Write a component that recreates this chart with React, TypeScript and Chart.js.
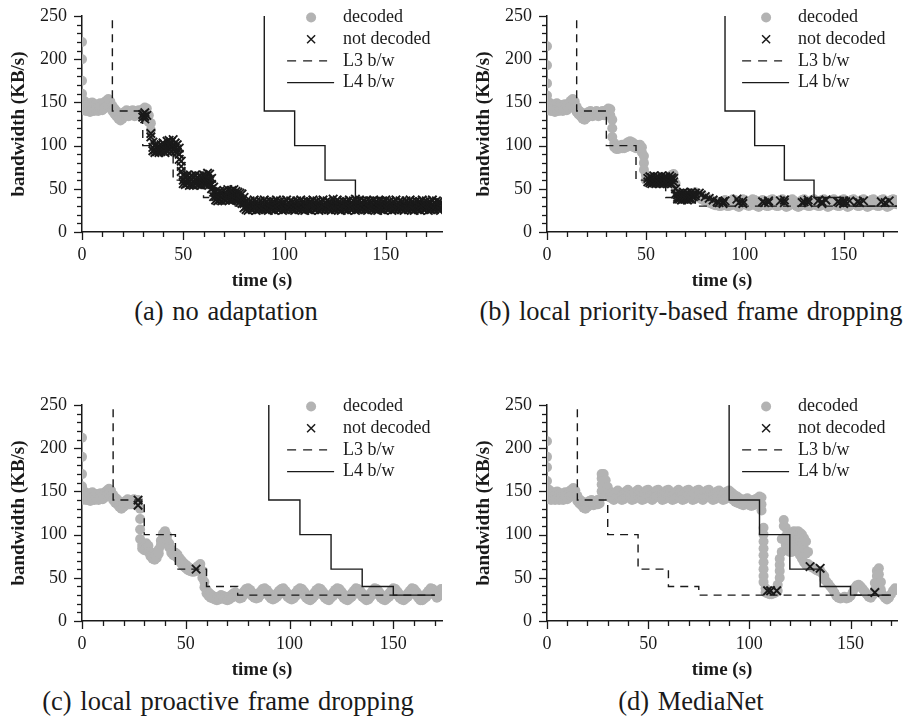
import React, { useEffect, useRef } from "react";
import { Chart, registerables } from "chart.js";
Chart.register(...registerables);

const FONT = "'Liberation Serif', 'Times New Roman', serif";
const GRAY = "#b3b3b3";
const INK = "#1a1a1a";

// ---------- axis / legend text ----------
const Y_TITLE = "bandwidth (KB/s)";
const X_TITLE = "time (s)";
const Y_MAJOR = [0, 50, 100, 150, 200, 250];
const X_MAJOR = [0, 50, 100, 150];
const MINOR_STEP = 10;
const LEGEND_LABELS = ["decoded", "not decoded", "L3 b/w", "L4 b/w"];
const CAPTIONS = [
  "(a) no adaptation",
  "(b) local priority-based frame dropping",
  "(c) local proactive frame dropping",
  "(d) MediaNet",
];

// ---------- link bandwidth steps [time, KB/s] ----------
const L3_STEPS = [[15, 245], [15, 140], [30, 140], [30, 100], [45, 100], [45, 60], [60, 60], [60, 40], [75, 40], [75, 30]];
const L4_STEPS = [[90, 250], [90, 140], [105, 140], [105, 100], [120, 100], [120, 60], [135, 60], [135, 40], [150, 40], [150, 30]];
const LINE_END = [177, 177, 170, 170];
const X_MAX = [177.8, 177, 173.5, 173];

// ---------- frame samples: [time, value, value, ...] ----------
const A_DECODED = [
  [0, 220, 200, 175, 160, 150, 142], [1, 152, 141], [2, 146, 140], [3, 149, 141], [4, 147, 139], [5, 150, 142],
  [6, 146, 140], [7, 148, 141], [8, 145, 140], [9, 149, 142], [10, 147, 141], [11, 150, 143], [12, 152, 145],
  [13, 154, 146], [14, 151, 144], [15, 146, 140], [16, 143, 137], [17, 140, 134], [18, 136, 131], [19, 133, 129],
  [20, 135, 131], [21, 139, 134], [22, 141, 135], [23, 138, 134], [24, 140, 135], [25, 141, 136], [26, 139, 134],
  [27, 140, 135], [28, 141, 136], [29, 139, 135], [30, 142, 137], [31, 144, 139], [32, 143, 136], [33, 135, 127],
  [34, 126, 118],
];
const A_DROPPED = [
  [30, 136, 133], [31, 138, 134, 131], [32, 135], [34, 114, 110], [35, 104, 98, 94], [36, 100, 95, 92],
  [37, 102, 97, 93], [38, 99, 95, 92], [39, 101, 96, 93], [40, 103, 98, 94], [41, 100, 96, 92], [42, 105, 99, 94],
  [43, 106, 100, 95], [44, 104, 98, 93], [45, 107, 99, 95], [46, 103, 97, 93], [47, 101, 96, 92], [48, 97, 90, 84],
  [49, 82, 76, 70], [50, 66, 60, 56], [51, 64, 59, 55], [52, 66, 61, 56], [53, 63, 58, 54], [54, 65, 60, 55],
  [55, 64, 58, 54], [56, 66, 61, 56], [57, 63, 59, 55], [58, 65, 60, 55], [59, 64, 58, 54], [60, 66, 61, 57],
  [61, 65, 59, 55], [62, 68, 62, 56], [63, 67, 61, 55], [64, 62, 55, 50], [65, 52, 46, 41], [66, 47, 41, 37],
  [67, 45, 40, 36], [68, 47, 42, 37], [69, 46, 40, 36], [70, 48, 43, 38], [71, 46, 41, 37], [72, 49, 43, 38],
  [73, 47, 42, 37], [74, 48, 43, 37], [75, 49, 44, 38], [76, 47, 42, 37], [77, 46, 40, 36], [78, 45, 39, 35],
  [79, 44, 37, 33], [80, 40, 33, 28], [81, 35, 30, 26], [82, 33, 29, 25], [83, 36, 31, 27], [84, 34, 30, 26],
  [85, 37, 31, 27], [86, 35, 29, 25], [87, 33, 30, 26], [88, 36, 31, 27], [89, 34, 29, 26], [90, 37, 32, 27],
  [91, 35, 30, 26], [92, 33, 29, 25], [93, 36, 31, 27], [94, 34, 30, 26], [95, 35, 29, 25], [96, 37, 32, 28],
  [97, 34, 30, 26], [98, 36, 31, 27], [99, 33, 29, 25], [100, 35, 30, 26], [101, 37, 31, 27], [102, 34, 29, 26],
  [103, 36, 32, 28], [104, 35, 30, 26], [105, 33, 29, 25], [106, 36, 31, 27], [107, 34, 30, 26], [108, 37, 31, 27],
  [109, 35, 30, 26], [110, 33, 29, 25], [111, 36, 31, 27], [112, 34, 30, 26], [113, 35, 29, 25], [114, 37, 32, 28],
  [115, 34, 30, 26], [116, 36, 31, 27], [117, 33, 29, 25], [118, 35, 30, 26], [119, 37, 31, 27], [120, 34, 29, 26],
  [121, 36, 32, 28], [122, 35, 30, 26], [123, 33, 29, 25], [124, 38, 31, 27], [125, 34, 30, 26], [126, 37, 31, 27],
  [127, 35, 30, 26], [128, 33, 29, 25], [129, 36, 31, 27], [130, 34, 30, 26], [131, 35, 29, 25], [132, 37, 32, 28],
  [133, 34, 30, 26], [134, 36, 31, 27], [135, 38, 29, 25], [136, 35, 30, 26], [137, 37, 31, 27], [138, 34, 29, 26],
  [139, 36, 32, 28], [140, 35, 30, 26], [141, 33, 29, 25], [142, 36, 31, 27], [143, 34, 30, 26], [144, 37, 31, 27],
  [145, 35, 30, 26], [146, 33, 29, 25], [147, 36, 31, 27], [148, 34, 30, 26], [149, 35, 29, 25], [150, 37, 32, 28],
  [151, 34, 30, 26], [152, 36, 31, 27], [153, 33, 29, 25], [154, 35, 30, 26], [155, 37, 31, 27], [156, 34, 29, 26],
  [157, 36, 32, 28], [158, 35, 30, 26], [159, 33, 29, 25], [160, 36, 31, 27], [161, 34, 30, 26], [162, 37, 31, 27],
  [163, 35, 30, 26], [164, 33, 29, 25], [165, 36, 31, 27], [166, 34, 30, 26], [167, 35, 29, 25], [168, 37, 32, 28],
  [169, 34, 30, 26], [170, 36, 31, 27], [171, 33, 29, 25], [172, 35, 30, 26], [173, 37, 31, 27], [174, 34, 29, 26],
  [175, 36, 32, 28], [176, 35, 30, 26], [177, 34, 29, 25],
];

const B_DECODED = [
  [0, 215, 193, 172, 158, 148, 141], [1, 150, 141], [2, 146, 140], [3, 148, 141], [4, 146, 139], [5, 149, 142],
  [6, 145, 140], [7, 147, 141], [8, 145, 140], [9, 148, 142], [10, 146, 141], [11, 149, 143], [12, 152, 145],
  [13, 154, 146], [14, 151, 144], [15, 145, 139], [16, 141, 136], [17, 139, 134], [18, 136, 131], [19, 134, 130],
  [20, 136, 132], [21, 139, 134], [22, 140, 135], [23, 138, 134], [24, 139, 135], [25, 140, 135], [26, 138, 134],
  [27, 139, 135], [28, 140, 136], [29, 139, 135], [30, 141, 136], [31, 143, 138], [32, 142, 135], [33, 130, 120, 110],
  [34, 103, 98], [35, 100, 96], [36, 99, 96], [37, 100, 97], [38, 101, 97], [39, 100, 97], [40, 102, 98],
  [41, 104, 99], [42, 105, 100], [43, 104, 99], [44, 102, 98], [45, 101, 97], [46, 100, 97], [47, 101, 96],
  [48, 98, 92], [49, 88, 80, 72], [50, 66, 60], [51, 63, 59], [52, 62, 58], [53, 63, 59], [54, 62, 58],
  [55, 63, 59], [56, 62, 58], [57, 63, 59], [58, 62, 58], [59, 63, 59], [60, 62, 58], [61, 63, 59], [62, 64, 60],
  [63, 66, 61], [64, 67, 60], [65, 56, 48], [66, 45, 41], [67, 44, 40], [68, 43, 40], [69, 44, 40], [70, 43, 39],
  [71, 44, 40], [72, 45, 41], [73, 44, 40], [74, 45, 41], [75, 46, 42], [76, 45, 41], [77, 44, 40], [78, 42, 38],
  [79, 41, 37], [80, 40, 36], [81, 39, 35], [82, 38, 34], [83, 37, 33], [84, 36, 32], [85, 35, 31], [86, 35, 31],
  [87, 34, 30], [88, 34, 30], [89, 36, 31], [90, 37, 32], [91, 35, 30], [92, 34, 30], [93, 36, 31], [94, 38, 33],
  [95, 37, 32], [96, 35, 30], [97, 34, 29], [98, 36, 31], [99, 38, 33], [100, 37, 32], [101, 35, 31], [102, 34, 30],
  [103, 36, 31], [104, 38, 33], [105, 37, 32], [106, 35, 30], [107, 34, 29], [108, 36, 31], [109, 37, 32],
  [110, 36, 31], [111, 34, 30], [112, 35, 30], [113, 37, 32], [114, 38, 33], [115, 36, 31], [116, 34, 30],
  [117, 35, 30], [118, 37, 32], [119, 38, 33], [120, 36, 31], [121, 34, 29], [122, 35, 30], [123, 37, 32],
  [124, 38, 33], [125, 36, 32], [126, 34, 30], [127, 33, 29], [128, 35, 30], [129, 37, 32], [130, 38, 33],
  [131, 36, 31], [132, 34, 30], [133, 35, 30], [134, 37, 32], [135, 38, 33], [136, 36, 31], [137, 34, 30],
  [138, 35, 30], [139, 37, 32], [140, 38, 33], [141, 36, 31], [142, 34, 29], [143, 35, 30], [144, 37, 32],
  [145, 38, 33], [146, 36, 31], [147, 34, 30], [148, 35, 30], [149, 37, 32], [150, 38, 33], [151, 36, 31],
  [152, 34, 29], [153, 35, 30], [154, 37, 32], [155, 38, 33], [156, 36, 32], [157, 34, 30], [158, 35, 30],
  [159, 37, 32], [160, 38, 33], [161, 36, 31], [162, 34, 29], [163, 35, 30], [164, 37, 32], [165, 38, 33],
  [166, 36, 31], [167, 34, 30], [168, 35, 30], [169, 37, 32], [170, 38, 33], [171, 36, 31], [172, 34, 29],
  [173, 35, 30], [174, 37, 32], [175, 38, 34], [176, 37, 33], [177, 36, 32],
];
const B_DROPPED = [
  [51, 62, 58], [52, 64, 60, 57], [53, 63, 59, 56], [54, 65, 61, 57], [55, 63, 58, 56], [56, 64, 60, 57],
  [57, 62, 59, 56], [58, 65, 61, 57], [59, 63, 59, 56], [60, 64, 60, 57], [61, 62, 58, 56], [62, 65, 61, 57],
  [63, 63, 60, 56], [64, 62, 58], [65, 50, 44], [66, 43, 40, 38], [67, 45, 41, 38], [68, 44, 40, 37],
  [69, 46, 42, 38], [70, 44, 41, 38], [71, 45, 40, 37], [72, 43, 40, 38], [73, 46, 42, 38], [74, 44, 41],
  [75, 45, 42], [77, 45], [78, 43], [80, 41], [82, 39], [84, 37], [86, 35], [87, 34], [89, 35, 33], [90, 36],
  [96, 38], [97, 34], [99, 36, 33], [109, 35], [110, 34], [112, 36, 34], [118, 36], [120, 37, 34], [129, 34],
  [130, 35], [132, 37, 34], [137, 36], [139, 35, 33], [141, 37], [147, 35], [148, 34], [150, 36, 33], [151, 35],
  [153, 36], [157, 35], [158, 34], [160, 36], [169, 35], [171, 34], [173, 36],
];

const C_DECODED = [
  [0, 212, 190, 170, 156, 148, 140], [1, 150, 141], [2, 146, 140], [3, 148, 141], [4, 146, 139], [5, 149, 142],
  [6, 145, 140], [7, 147, 141], [8, 145, 140], [9, 148, 142], [10, 146, 141], [11, 149, 143], [12, 151, 145],
  [13, 153, 146], [14, 151, 144], [15, 146, 140], [16, 143, 137], [17, 141, 135], [18, 137, 132], [19, 134, 130],
  [20, 136, 132], [21, 139, 134], [22, 141, 135], [23, 139, 135], [24, 140, 135], [25, 141, 136], [26, 139, 135],
  [27, 140, 135], [28, 130, 118, 106, 95], [29, 88, 84], [30, 86, 82], [31, 90, 84], [32, 87, 80], [33, 80, 75],
  [34, 76, 72], [35, 75, 71], [36, 77, 73], [37, 83, 78], [38, 93, 88], [39, 101, 96], [40, 104, 98], [41, 99, 93],
  [42, 90, 85], [43, 83, 79], [44, 80, 76], [45, 79, 75], [46, 77, 73], [47, 73, 69], [48, 70, 66], [49, 67, 63],
  [50, 65, 61], [51, 63, 59], [52, 61, 58], [53, 60, 57], [54, 60, 57], [55, 62, 58], [56, 64, 60], [57, 66, 61],
  [58, 58, 50], [59, 45, 39], [60, 36, 32], [61, 33, 29], [62, 31, 27], [63, 29, 26], [64, 28, 25], [65, 27, 24],
  [66, 28, 25], [67, 30, 26], [68, 29, 26], [69, 28, 25], [70, 27, 24], [71, 28, 25], [72, 30, 27], [73, 32, 28],
  [74, 33, 29], [75, 31, 28], [76, 29, 26], [77, 30, 27], [78, 34, 30], [79, 37, 33], [80, 38, 34], [81, 36, 32],
  [82, 33, 29], [83, 30, 27], [84, 29, 26], [85, 31, 27], [86, 34, 30], [87, 37, 33], [88, 38, 34], [89, 36, 32],
  [90, 33, 29], [91, 30, 26], [92, 28, 25], [93, 29, 26], [94, 32, 28], [95, 35, 31], [96, 37, 33], [97, 38, 34],
  [98, 35, 31], [99, 32, 28], [100, 29, 26], [101, 28, 25], [102, 30, 26], [103, 33, 29], [104, 36, 32],
  [105, 38, 34], [106, 37, 33], [107, 34, 30], [108, 31, 27], [109, 28, 25], [110, 28, 24], [111, 30, 26],
  [112, 33, 29], [113, 36, 32], [114, 38, 34], [115, 37, 33], [116, 34, 30], [117, 31, 27], [118, 28, 25],
  [119, 28, 24], [120, 30, 27], [121, 33, 29], [122, 36, 32], [123, 38, 34], [124, 37, 33], [125, 34, 30],
  [126, 31, 27], [127, 28, 25], [128, 27, 24], [129, 29, 26], [130, 32, 28], [131, 35, 31], [132, 38, 34],
  [133, 37, 33], [134, 35, 31], [135, 32, 28], [136, 29, 26], [137, 28, 24], [138, 29, 25], [139, 32, 28],
  [140, 35, 31], [141, 38, 34], [142, 37, 33], [143, 34, 30], [144, 31, 27], [145, 28, 25], [146, 27, 24],
  [147, 29, 26], [148, 32, 28], [149, 35, 31], [150, 38, 34], [151, 37, 33], [152, 34, 30], [153, 31, 27],
  [154, 28, 25], [155, 27, 24], [156, 29, 26], [157, 32, 28], [158, 35, 31], [159, 38, 34], [160, 37, 33],
  [161, 34, 30], [162, 31, 27], [163, 28, 24], [164, 27, 24], [165, 29, 26], [166, 32, 28], [167, 35, 31],
  [168, 38, 34], [169, 37, 33], [170, 34, 30], [171, 31, 27], [172, 33, 29], [173, 37, 33],
];
const C_DROPPED = [[27, 140, 134], [55, 60]];

const D_DECODED = [
  [0, 208, 190, 178, 162, 150, 141], [1, 152, 142], [2, 147, 140], [3, 149, 141], [4, 146, 140], [5, 150, 142],
  [6, 146, 140], [7, 148, 141], [8, 145, 140], [9, 149, 142], [10, 147, 141], [11, 150, 143], [12, 152, 145],
  [13, 154, 146], [14, 151, 144], [15, 145, 139], [16, 141, 136], [17, 139, 134], [18, 136, 131], [19, 134, 130],
  [20, 136, 132], [21, 139, 134], [22, 140, 135], [23, 138, 134], [24, 139, 135], [25, 140, 135], [26, 141, 136],
  [27, 150, 158, 165, 170], [28, 170, 162, 152], [29, 163, 150], [30, 155, 146], [31, 150, 143], [32, 148, 142],
  [33, 146, 140], [34, 149, 142], [35, 151, 144], [36, 148, 142], [37, 145, 140], [38, 147, 141], [39, 150, 143],
  [40, 152, 145], [41, 149, 143], [42, 146, 140], [43, 147, 141], [44, 150, 143], [45, 152, 145], [46, 149, 142],
  [47, 146, 140], [48, 148, 141], [49, 151, 144], [50, 152, 145], [51, 149, 142], [52, 146, 140], [53, 148, 142],
  [54, 151, 144], [55, 152, 145], [56, 149, 143], [57, 146, 140], [58, 148, 141], [59, 151, 144], [60, 152, 145],
  [61, 149, 142], [62, 146, 140], [63, 147, 141], [64, 150, 143], [65, 152, 145], [66, 149, 142], [67, 146, 140],
  [68, 148, 141], [69, 151, 144], [70, 152, 145], [71, 149, 143], [72, 146, 140], [73, 148, 141], [74, 151, 144],
  [75, 152, 145], [76, 149, 142], [77, 146, 140], [78, 148, 142], [79, 151, 144], [80, 152, 145], [81, 149, 142],
  [82, 146, 140], [83, 148, 141], [84, 150, 143], [85, 151, 144], [86, 149, 142], [87, 146, 140], [88, 148, 141],
  [89, 150, 143], [90, 151, 144], [91, 149, 142], [92, 147, 140], [93, 145, 138], [94, 144, 137], [95, 142, 136],
  [96, 141, 135], [97, 140, 134], [98, 141, 135], [99, 142, 136], [100, 140, 134], [101, 139, 133], [102, 140, 134],
  [103, 141, 135], [104, 142, 136], [105, 144, 137], [106, 143, 135, 128],
  [107, 108, 100, 92, 84, 76, 68, 60, 52, 45], [108, 38, 33], [109, 32], [110, 31], [111, 31], [112, 32], [113, 33],
  [114, 35, 42], [115, 50, 58, 65, 72], [116, 80, 95], [117, 110, 117], [118, 108, 98, 88], [119, 102, 92, 82],
  [120, 100, 90, 80], [121, 101, 91, 80], [122, 104, 94, 84], [123, 103, 93, 82], [124, 104, 94, 80],
  [125, 102, 92, 76], [126, 100, 88, 72], [127, 96, 84, 68], [128, 92, 78, 65], [129, 80, 66], [130, 64],
  [131, 62], [132, 61], [133, 59], [134, 58], [135, 58], [136, 55], [137, 52, 48], [138, 46], [139, 43], [140, 40],
  [141, 37], [142, 33], [143, 29], [144, 27], [145, 26], [146, 27], [147, 28], [148, 26], [149, 27], [150, 29],
  [151, 33], [152, 38], [153, 41], [154, 42], [155, 40], [156, 37], [157, 34], [158, 31], [159, 28], [160, 27],
  [161, 30], [162, 36, 44], [163, 52, 58], [164, 61, 54], [165, 45, 36], [166, 30], [167, 27], [168, 25],
  [169, 27], [170, 31], [171, 35], [172, 38], [173, 36],
];
const D_DROPPED = [[109, 35], [110.5, 35], [113.5, 35], [130, 63], [135, 61], [162, 33]];

const DECODED = [A_DECODED, B_DECODED, C_DECODED, D_DECODED];
const DROPPED = [A_DROPPED, B_DROPPED, C_DROPPED, D_DROPPED];

// ---------- layout (pixels) ----------
const PANELS = [
  { left: 0, top: 0, w: 450, h: 296, padL: 0, padR: 7, padT: 16, plotBottom: 232, capX: 226, capY: 311 },
  { left: 450, top: 0, w: 455, h: 296, padL: 15, padR: 0, padT: 16, plotBottom: 232, capX: 691, capY: 311 },
  { left: 0, top: 389, w: 450, h: 296, padL: 0, padR: 7, padT: 16, plotBottom: 232, capX: 228, capY: 701 },
  { left: 450, top: 389, w: 455, h: 296, padL: 15, padR: 0, padT: 16, plotBottom: 232, capX: 691, capY: 701 },
];

const toPoints = (rows: number[][]) =>
  rows.flatMap(([t, ...vs]) => vs.map((v) => ({ x: t, y: v })));
const stepLine = (steps: number[][], end: number) =>
  [...steps, [end, steps[steps.length - 1][1]]].map(([x, y]) => ({ x, y }));

const tickPlugin = {
  id: "bwTicks",
  afterDraw(chart: any) {
    const { ctx } = chart;
    const xs = chart.scales.x;
    const ys = chart.scales.y;
    ctx.save();
    ctx.strokeStyle = INK;
    ctx.lineWidth = 1.3;
    const ax = xs.left;
    const ay = ys.bottom;
    for (let v = 0; v <= ys.max + 1e-6; v += MINOR_STEP) {
      const py = Math.round(ys.getPixelForValue(v)) + 0.5;
      const len = Y_MAJOR.includes(v) ? 8 : 5;
      ctx.beginPath();
      ctx.moveTo(ax - len, py);
      ctx.lineTo(ax, py);
      ctx.stroke();
    }
    for (let v = 0; v <= xs.max + 1e-6; v += MINOR_STEP) {
      const px = Math.round(xs.getPixelForValue(v)) + 0.5;
      const len = X_MAJOR.includes(v) ? 8 : 5;
      ctx.beginPath();
      ctx.moveTo(px, ay);
      ctx.lineTo(px, ay + len);
      ctx.stroke();
    }
    ctx.restore();
  },
};

const legendPlugin = {
  id: "bwLegend",
  afterDatasetsDraw(chart: any) {
    const { ctx, chartArea } = chart;
    const tx = chartArea.right - 99;
    const y0 = chartArea.top + 1.5;
    const step = 21.7;
    ctx.save();
    ctx.font = `18px ${FONT}`;
    ctx.fillStyle = INK;
    ctx.textAlign = "left";
    ctx.textBaseline = "middle";
    LEGEND_LABELS.forEach((lab, i) => ctx.fillText(lab, tx, y0 + i * step));
    ctx.fillStyle = GRAY;
    ctx.beginPath();
    ctx.arc(tx - 32, y0, 5, 0, Math.PI * 2);
    ctx.fill();
    ctx.strokeStyle = INK;
    ctx.lineWidth = 1.5;
    const yx = y0 + step;
    ctx.beginPath();
    ctx.moveTo(tx - 36, yx - 4);
    ctx.lineTo(tx - 28, yx + 4);
    ctx.moveTo(tx - 36, yx + 4);
    ctx.lineTo(tx - 28, yx - 4);
    ctx.stroke();
    ctx.lineWidth = 1.4;
    ctx.setLineDash([9, 7]);
    ctx.beginPath();
    ctx.moveTo(tx - 56, y0 + 2 * step);
    ctx.lineTo(tx - 16, y0 + 2 * step);
    ctx.stroke();
    ctx.setLineDash([]);
    ctx.beginPath();
    ctx.moveTo(tx - 56, y0 + 3 * step);
    ctx.lineTo(tx - 9, y0 + 3 * step);
    ctx.stroke();
    ctx.restore();
  },
};

function buildConfig(i: number): any {
  const p = PANELS[i];
  return {
    type: "scatter",
    data: {
      datasets: [
        {
          label: LEGEND_LABELS[1],
          data: toPoints(DROPPED[i]),
          pointStyle: "crossRot",
          pointRadius: 6,
          borderColor: INK,
          backgroundColor: INK,
          borderWidth: 1.9,
          order: 0,
        },
        {
          label: LEGEND_LABELS[2],
          data: stepLine(L3_STEPS, LINE_END[i]),
          showLine: true,
          pointRadius: 0,
          borderColor: INK,
          borderWidth: 1.4,
          borderDash: [8, 6],
          order: 1,
        },
        {
          label: LEGEND_LABELS[3],
          data: stepLine(L4_STEPS, LINE_END[i]),
          showLine: true,
          pointRadius: 0,
          borderColor: INK,
          borderWidth: 1.4,
          order: 2,
        },
        {
          label: LEGEND_LABELS[0],
          data: toPoints(DECODED[i]),
          pointStyle: "circle",
          pointRadius: 5,
          backgroundColor: GRAY,
          borderColor: GRAY,
          borderWidth: 0,
          order: 3,
        },
      ],
    },
    options: {
      animation: false,
      responsive: false,
      events: [],
      layout: { padding: { left: p.padL, right: p.padR, top: p.padT, bottom: 0 } },
      plugins: { legend: { display: false }, tooltip: { enabled: false } },
      scales: {
        x: {
          type: "linear",
          min: 0,
          max: X_MAX[i],
          afterFit: (s: any) => {
            s.height = p.h - p.plotBottom;
            s.paddingLeft = 0;
            s.paddingRight = 0;
          },
          afterBuildTicks: (s: any) => {
            s.ticks = X_MAJOR.map((v) => ({ value: v }));
          },
          grid: { display: false, drawTicks: false },
          border: { display: true, color: INK, width: 1.5 },
          ticks: { font: { family: FONT, size: 18 }, color: INK, padding: 12, maxRotation: 0, autoSkip: false },
          title: {
            display: true,
            text: X_TITLE,
            color: INK,
            font: { family: FONT, size: 19, weight: "bold" },
            padding: { top: 0, bottom: 4 },
          },
        },
        y: {
          type: "linear",
          min: 0,
          max: 250,
          afterFit: (s: any) => {
            s.width = 82;
            s.paddingTop = 0;
            s.paddingBottom = 0;
          },
          afterBuildTicks: (s: any) => {
            s.ticks = Y_MAJOR.map((v) => ({ value: v }));
          },
          grid: { display: false, drawTicks: false },
          border: { display: true, color: INK, width: 1.5 },
          ticks: { font: { family: FONT, size: 18 }, color: INK, padding: 15 },
          title: {
            display: true,
            text: Y_TITLE,
            color: INK,
            font: { family: FONT, size: 19, weight: "bold" },
            padding: { top: 8, bottom: 0 },
          },
        },
      },
    },
    plugins: [tickPlugin, legendPlugin],
  };
}

function Panel({ index }: { index: number }) {
  const ref = useRef<HTMLCanvasElement>(null);
  const p = PANELS[index];
  useEffect(() => {
    const chart = new Chart(ref.current as HTMLCanvasElement, buildConfig(index));
    return () => chart.destroy();
  }, [index]);
  return (
    <canvas
      ref={ref}
      width={p.w}
      height={p.h}
      style={{ position: "absolute", left: p.left, top: p.top, width: p.w, height: p.h }}
    />
  );
}

export default function App() {
  return (
    <div
      style={{
        position: "absolute",
        left: 0,
        top: 0,
        width: 905,
        height: 717,
        overflow: "hidden",
        background: "#fff",
      }}
    >
      {PANELS.map((p, i) => (
        <React.Fragment key={i}>
          <Panel index={i} />
          <div
            style={{
              position: "absolute",
              left: p.capX,
              top: p.capY - 15,
              transform: "translateX(-50%)",
              whiteSpace: "nowrap",
              fontFamily: FONT,
              fontSize: 26.5,
              lineHeight: "30px",
              color: INK,
              wordSpacing: 2,
            }}
          >
            {CAPTIONS[i]}
          </div>
        </React.Fragment>
      ))}
    </div>
  );
}
